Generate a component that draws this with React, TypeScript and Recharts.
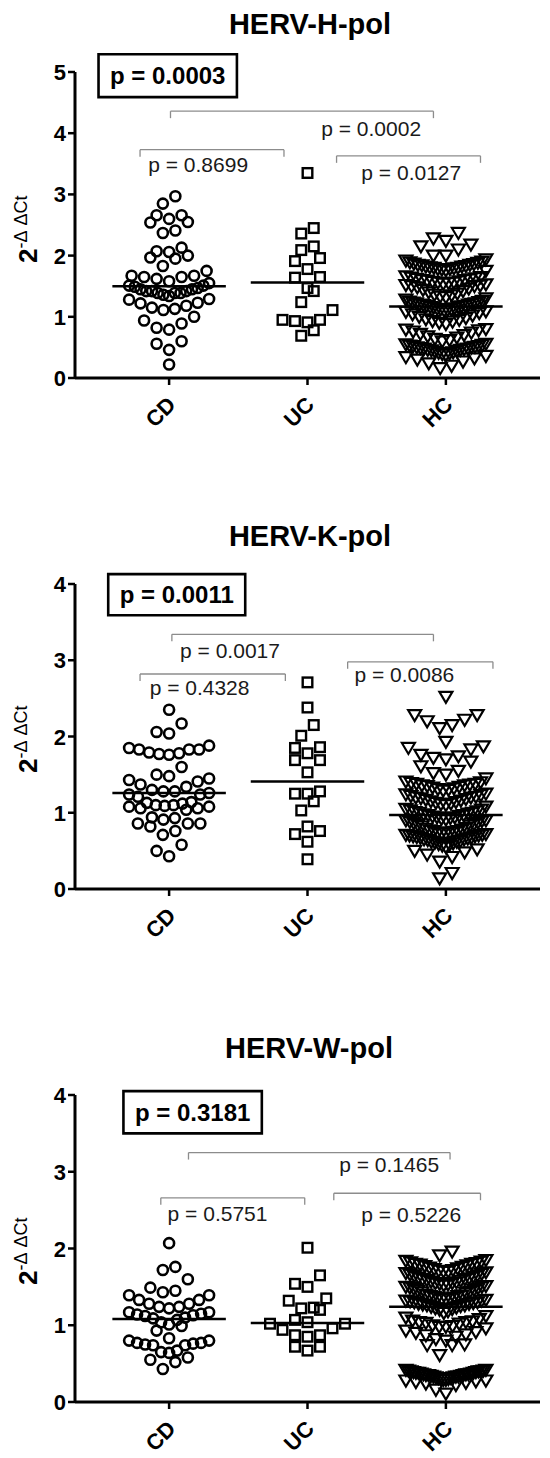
import React from 'react';
import { ScatterChart, Scatter, XAxis, YAxis, ReferenceLine, ReferenceArea, ReferenceDot } from 'recharts';

const CATEGORIES = ['CD', 'UC', 'HC'];
const TITLES = ['HERV-H-pol', 'HERV-K-pol', 'HERV-W-pol'];
const OVERALL_P = ['p = 0.0003', 'p = 0.0011', 'p = 0.3181'];

// HERV-H-pol
const H_CD = [2.97, 2.85, 2.66, 2.66, 2.60, 2.55, 2.54, 2.41, 2.37, 2.13, 2.07, 2.06, 2.00, 1.97, 1.95, 1.83, 1.75, 1.67, 1.67, 1.65, 1.65, 1.62, 1.58, 1.55, 1.51, 1.51, 1.49, 1.47, 1.45, 1.45, 1.42, 1.42, 1.42, 1.39, 1.39, 1.39, 1.36, 1.34, 1.29, 1.28, 1.23, 1.22, 1.18, 1.15, 1.13, 1.11, 1.00, 0.94, 0.89, 0.82, 0.79, 0.60, 0.56, 0.46, 0.22];
const H_UC = [3.35, 2.45, 2.36, 2.15, 2.09, 1.96, 1.91, 1.78, 1.65, 1.64, 1.47, 1.42, 1.24, 1.11, 0.95, 0.95, 0.93, 0.91, 0.78, 0.69];
const H_HC = [2.37, 2.28, 2.24, 2.18, 2.15, 2.10, 2.00, 2.00, 1.94, 1.92,
  1.90, 1.89, 1.88, 1.87, 1.86, 1.85, 1.85, 1.84, 1.83, 1.82, 1.82, 1.81, 1.80, 1.80, 1.79, 1.78, 1.78, 1.77, 1.76, 1.75,
  1.66, 1.65, 1.64, 1.63, 1.62, 1.61, 1.60, 1.60, 1.59, 1.58, 1.57, 1.56, 1.56, 1.55, 1.54, 1.53, 1.52, 1.51, 1.50, 1.50, 1.48, 1.46,
  1.44, 1.42, 1.40, 1.38, 1.36, 1.35, 1.33, 1.32, 1.30, 1.28,
  1.26, 1.25, 1.24, 1.23, 1.22, 1.22, 1.21, 1.20, 1.20, 1.19, 1.18, 1.18, 1.17, 1.16, 1.16, 1.15, 1.14, 1.13, 1.12, 1.12, 1.11, 1.10, 1.09, 1.08, 1.06,
  1.04, 1.02, 1.00, 0.98, 0.96, 0.95, 0.93, 0.92, 0.90, 0.88,
  0.80, 0.79, 0.78, 0.76, 0.74, 0.72, 0.70, 0.68, 0.66, 0.64, 0.62, 0.60,
  0.56, 0.55, 0.54, 0.53, 0.52, 0.52, 0.51, 0.50, 0.50, 0.49, 0.48, 0.48, 0.47, 0.46, 0.46, 0.45, 0.44, 0.43, 0.42, 0.41, 0.40, 0.39, 0.38, 0.36, 0.34, 0.32, 0.30, 0.27, 0.24, 0.20, 0.16];

// HERV-K-pol
const K_CD = [2.35, 2.17, 2.06, 2.04, 1.88, 1.85, 1.83, 1.83, 1.83, 1.79, 1.78, 1.77, 1.76, 1.60, 1.50, 1.48, 1.45, 1.43, 1.41, 1.37, 1.34, 1.30, 1.28, 1.28, 1.26, 1.24, 1.24, 1.21, 1.14, 1.13, 1.12, 1.10, 1.10, 1.09, 1.08, 1.08, 1.06, 1.06, 1.04, 0.94, 0.93, 0.91, 0.86, 0.86, 0.86, 0.82, 0.76, 0.71, 0.58, 0.50, 0.43];
const K_UC = [2.71, 2.38, 2.15, 2.01, 1.86, 1.85, 1.78, 1.69, 1.69, 1.53, 1.28, 1.25, 1.25, 1.15, 1.03, 0.82, 0.76, 0.72, 0.62, 0.39];
const K_HC = [2.52, 2.28, 2.28, 2.22, 2.20, 2.15, 2.11, 1.93, 1.87, 1.85, 1.83, 1.76, 1.74, 1.72, 1.70, 1.67, 1.61, 1.55, 1.52, 1.50, 1.45, 1.41,
  1.40, 1.39, 1.38, 1.38, 1.37, 1.36, 1.36, 1.35, 1.34, 1.33, 1.32, 1.31, 1.30, 1.29,
  1.25, 1.24, 1.23, 1.22, 1.21, 1.20, 1.20, 1.19, 1.18, 1.17, 1.16, 1.15, 1.14, 1.13, 1.12, 1.11, 1.10, 1.08,
  1.05, 1.04, 1.03, 1.02, 1.01, 1.00, 1.00, 0.99, 0.98, 0.97, 0.97, 0.96, 0.95, 0.94, 0.94, 0.93, 0.92, 0.91, 0.90, 0.90, 0.89, 0.88, 0.87, 0.86, 0.85, 0.84, 0.83, 0.82,
  0.80, 0.79, 0.78, 0.77, 0.76, 0.76, 0.75, 0.74, 0.74, 0.73, 0.73, 0.72, 0.71, 0.71, 0.70, 0.70, 0.69, 0.69, 0.68, 0.67, 0.67, 0.66, 0.65, 0.65, 0.64, 0.63, 0.62, 0.62, 0.61, 0.60, 0.59, 0.58, 0.57, 0.55,
  0.52, 0.50, 0.48, 0.45, 0.42, 0.36, 0.21, 0.14];

// HERV-W-pol
const W_CD = [2.07, 1.76, 1.72, 1.60, 1.49, 1.45, 1.43, 1.39, 1.39, 1.33, 1.33, 1.28, 1.28, 1.24, 1.24, 1.22, 1.17, 1.17, 1.15, 1.14, 1.13, 1.12, 1.10, 1.09, 1.07, 1.04, 1.01, 0.99, 0.93, 0.83, 0.80, 0.80, 0.77, 0.77, 0.76, 0.75, 0.74, 0.74, 0.67, 0.65, 0.64, 0.58, 0.55, 0.52, 0.43];
const W_UC = [2.01, 1.65, 1.54, 1.50, 1.35, 1.32, 1.23, 1.22, 1.20, 1.07, 1.04, 1.02, 1.02, 0.96, 0.94, 0.87, 0.87, 0.85, 0.72, 0.72, 0.67];
const W_HC = [1.96, 1.91, 1.85,
  1.84, 1.83, 1.82, 1.81, 1.80, 1.80, 1.79, 1.78, 1.77, 1.76, 1.75, 1.74, 1.73, 1.72, 1.71, 1.70, 1.70, 1.69, 1.68, 1.67, 1.66, 1.65, 1.64, 1.63,
  1.62, 1.61, 1.60, 1.60, 1.59, 1.58, 1.57, 1.56, 1.55, 1.55, 1.54, 1.53, 1.52, 1.51, 1.50, 1.50, 1.49, 1.48, 1.47, 1.46, 1.45, 1.44, 1.43, 1.42,
  1.40, 1.39, 1.38, 1.38, 1.37, 1.36, 1.36, 1.35, 1.34, 1.34, 1.33, 1.32, 1.32, 1.31, 1.30, 1.30, 1.29, 1.28, 1.28, 1.27, 1.26, 1.26, 1.25, 1.24, 1.23, 1.22, 1.21, 1.20, 1.18, 1.16,
  1.12, 1.10, 1.08, 1.06, 1.05, 1.04, 1.04, 1.03, 1.02, 1.00, 0.99, 0.98, 0.98, 0.96,
  0.93, 0.91, 0.90, 0.88, 0.87, 0.85, 0.82, 0.80,
  0.75, 0.74, 0.74, 0.61,
  0.42, 0.42, 0.41, 0.41, 0.40, 0.40, 0.40, 0.39, 0.39, 0.38, 0.38, 0.38, 0.37, 0.37, 0.36, 0.36, 0.36, 0.35, 0.35, 0.35, 0.34, 0.34, 0.33, 0.33, 0.33, 0.32, 0.32, 0.31, 0.31, 0.30, 0.30, 0.29, 0.29, 0.28, 0.28, 0.27, 0.26, 0.25, 0.24, 0.22,
  0.16, 0.11];

const MEDIANS_H = [1.50, 1.56, 1.17];
const MEDIANS_K = [1.26, 1.41, 0.97];
const MEDIANS_W = [1.08, 1.03, 1.24];

const Y_TICKS_H = [0, 1, 2, 3, 4, 5];
const Y_TICKS_KW = [0, 1, 2, 3, 4];

// pairwise comparisons: [x1, x2, y, label, labelX, labelY] in data units
const BRACKETS_H: [number, number, number, string, number, number][] = [
  [1.01, 2.91, 4.36, 'p = 0.0002', 2.46, 4.08],
  [0.79, 1.83, 3.73, 'p = 0.8699', 1.21, 3.48],
  [2.21, 3.25, 3.63, 'p = 0.0127', 2.75, 3.35],
];
const BRACKETS_K: [number, number, number, string, number, number][] = [
  [1.02, 2.91, 3.34, 'p = 0.0017', 1.44, 3.13],
  [0.79, 1.84, 2.82, 'p = 0.4328', 1.22, 2.64],
  [2.29, 3.34, 2.98, 'p = 0.0086', 2.70, 2.81],
];
const BRACKETS_W: [number, number, number, string, number, number][] = [
  [1.14, 3.03, 3.25, 'p = 0.1465', 2.59, 3.09],
  [0.94, 1.98, 2.66, 'p = 0.5751', 1.35, 2.46],
  [2.19, 3.25, 2.72, 'p = 0.5226', 2.75, 2.44],
];

// overall p box: [x1, x2, y1, y2]
const BOX_H = [0.49, 1.49, 4.59, 5.29];
const BOX_K = [0.56, 1.55, 3.59, 4.13];
const BOX_W = [0.67, 1.67, 3.50, 4.05];

const X_DOMAIN: [number, number] = [0.32, 3.68];
const PLOT_W = 465;
const MARK = 12;
const SPREAD = 40;

// Prism-like scatter: rows of similar value spread sideways, lowest in the middle
function swarm(values: number[], group: number, pyu: number) {
  const pxu = PLOT_W / (X_DOMAIN[1] - X_DOMAIN[0]);
  const binH = (MARK * 1.1) / pyu;
  const sorted = [...values].sort((a, b) => a - b);
  const rows: number[][] = [];
  let cur: number[] = [];
  let start = 0;
  sorted.forEach((v) => {
    if (cur.length && v - start > binH) {
      rows.push(cur);
      cur = [];
    }
    if (!cur.length) start = v;
    cur.push(v);
  });
  if (cur.length) rows.push(cur);
  const pts: { x: number; y: number }[] = [];
  rows.forEach((row) => {
    const n = row.length;
    const d = n > 1 ? Math.min(MARK + 0.5, (2 * SPREAD) / (n - 1)) : 0;
    row.forEach((v, i) => {
      let slot;
      if (n % 2 === 1) {
        const k = Math.ceil(i / 2);
        slot = i === 0 ? 0 : i % 2 === 1 ? -k : k;
      } else {
        const k = Math.floor(i / 2) + 0.5;
        slot = i % 2 === 0 ? -k : k;
      }
      pts.push({ x: group + (slot * d) / pxu, y: v });
    });
  });
  return pts;
}

const Ring = (p: any) => <circle cx={p.cx} cy={p.cy} r={5} fill="none" stroke="#000" strokeWidth={2.6} />;
const Sq = (p: any) => <rect x={p.cx - 4.8} y={p.cy - 4.8} width={9.6} height={9.6} fill="none" stroke="#000" strokeWidth={2.4} />;
const Tri = (p: any) => (
  <path d={`M${p.cx - 6.5},${p.cy - 5} L${p.cx + 6.5},${p.cy - 5} L${p.cx},${p.cy + 6} Z`} fill="none" stroke="#000" strokeWidth={2.2} strokeLinejoin="miter" />
);

const CatTick = (props: any) => {
  const { x, y, payload } = props;
  return (
    <text transform={`translate(${x + 8},${y + 19}) rotate(-45)`} textAnchor="end" fontSize={22} fontWeight={700} fill="#000">
      {CATEGORIES[payload.value - 1]}
    </text>
  );
};

const NumTick = (props: any) => {
  const { x, y, payload } = props;
  return (
    <text x={x} y={y} dy={8} textAnchor="end" fontSize={22} fontWeight={700} fill="#000">
      {payload.value}
    </text>
  );
};

function Panel({ top, height, margin, yMax, yTicks, groups, medians, brackets, box, overall }: any) {
  const plotH = height - margin.top - margin.bottom - 50;
  const pyu = plotH / yMax;
  const drop = 7 / pyu;
  const shapes = [Ring, Sq, Tri];
  return (
    <div style={{ position: 'absolute', left: 0, top }}>
      <ScatterChart width={550} height={height} margin={margin}>
        <XAxis
          type="number"
          dataKey="x"
          domain={X_DOMAIN}
          ticks={[1, 2, 3]}
          interval={0}
          allowDataOverflow
          height={50}
          tick={<CatTick />}
          tickSize={7}
          axisLine={{ stroke: '#000', strokeWidth: 3 }}
          tickLine={{ stroke: '#000', strokeWidth: 2.5 }}
        />
        <YAxis
          type="number"
          dataKey="y"
          domain={[0, yMax]}
          ticks={yTicks}
          interval={0}
          allowDataOverflow
          width={60}
          tickSize={7}
          tick={<NumTick />}
          axisLine={{ stroke: '#000', strokeWidth: 3 }}
          tickLine={{ stroke: '#000', strokeWidth: 2.5 }}
        />
        {groups.map((vals: number[], i: number) => (
          <Scatter key={CATEGORIES[i]} data={swarm(vals, i + 1, pyu)} shape={shapes[i]} isAnimationActive={false} />
        ))}
        {medians.map((m: number, i: number) => (
          <ReferenceLine key={'m' + i} segment={[{ x: i + 1 - 0.41, y: m }, { x: i + 1 + 0.41, y: m }]} stroke="#000" strokeWidth={2.5} />
        ))}
        {brackets.map((b: any, i: number) => (
          <React.Fragment key={'b' + i}>
            <ReferenceLine segment={[{ x: b[0], y: b[2] }, { x: b[1], y: b[2] }]} stroke="#8c8c8c" strokeWidth={1.3} />
            <ReferenceLine segment={[{ x: b[0], y: b[2] }, { x: b[0], y: b[2] - drop }]} stroke="#8c8c8c" strokeWidth={1.3} />
            <ReferenceLine segment={[{ x: b[1], y: b[2] }, { x: b[1], y: b[2] - drop }]} stroke="#8c8c8c" strokeWidth={1.3} />
            <ReferenceDot
              x={b[4]}
              y={b[5]}
              r={1}
              fillOpacity={0}
              stroke="none"
              ifOverflow="visible"
              label={{ value: b[3], position: 'center', fontSize: 21, fill: '#1a1a1a' }}
            />
          </React.Fragment>
        ))}
        <ReferenceArea
          x1={box[0]}
          x2={box[1]}
          y1={box[2]}
          y2={box[3]}
          ifOverflow="visible"
          fill="none"
          fillOpacity={0}
          stroke="#000"
          strokeWidth={2.6}
          label={{ value: overall, position: 'center', fontSize: 24, fontWeight: 700, fill: '#000' }}
        />
      </ScatterChart>
    </div>
  );
}

const YLabel = ({ x, y }: { x: number; y: number }) => (
  <text transform={`translate(${x},${y}) rotate(-90)`} fill="#000">
    <tspan fontSize={26} fontWeight={700}>2</tspan>
    <tspan fontSize={18} dy={-10}>{'-\u0394\u00A0\u0394Ct'}</tspan>
  </text>
);

export default function App() {
  return (
    <div style={{ position: 'absolute', left: 0, top: 0, width: 550, height: 1458, background: '#fff', fontFamily: 'Arial, "Liberation Sans", sans-serif' }}>
      <Panel
        top={0}
        height={480}
        margin={{ top: 72, right: 10, bottom: 52, left: 15 }}
        yMax={5}
        yTicks={Y_TICKS_H}
        groups={[H_CD, H_UC, H_HC]}
        medians={MEDIANS_H}
        brackets={BRACKETS_H}
        box={BOX_H}
        overall={OVERALL_P[0]}
      />
      <Panel
        top={480}
        height={480}
        margin={{ top: 104, right: 10, bottom: 21, left: 15 }}
        yMax={4}
        yTicks={Y_TICKS_KW}
        groups={[K_CD, K_UC, K_HC]}
        medians={MEDIANS_K}
        brackets={BRACKETS_K}
        box={BOX_K}
        overall={OVERALL_P[1]}
      />
      <Panel
        top={960}
        height={498}
        margin={{ top: 135, right: 10, bottom: 6, left: 15 }}
        yMax={4}
        yTicks={Y_TICKS_KW}
        groups={[W_CD, W_UC, W_HC]}
        medians={MEDIANS_W}
        brackets={BRACKETS_W}
        box={BOX_W}
        overall={OVERALL_P[2]}
      />
      <svg width={550} height={1458} style={{ position: 'absolute', left: 0, top: 0, pointerEvents: 'none' }}>
        <text x={310} y={34} textAnchor="middle" fontSize={29} fontWeight={700} fill="#000">{TITLES[0]}</text>
        <text x={310} y={546} textAnchor="middle" fontSize={29} fontWeight={700} fill="#000">{TITLES[1]}</text>
        <text x={309} y={1058} textAnchor="middle" fontSize={29} fontWeight={700} fill="#000">{TITLES[2]}</text>
        <YLabel x={37} y={263} />
        <YLabel x={37} y={773} />
        <YLabel x={37} y={1285} />
      </svg>
    </div>
  );
}
